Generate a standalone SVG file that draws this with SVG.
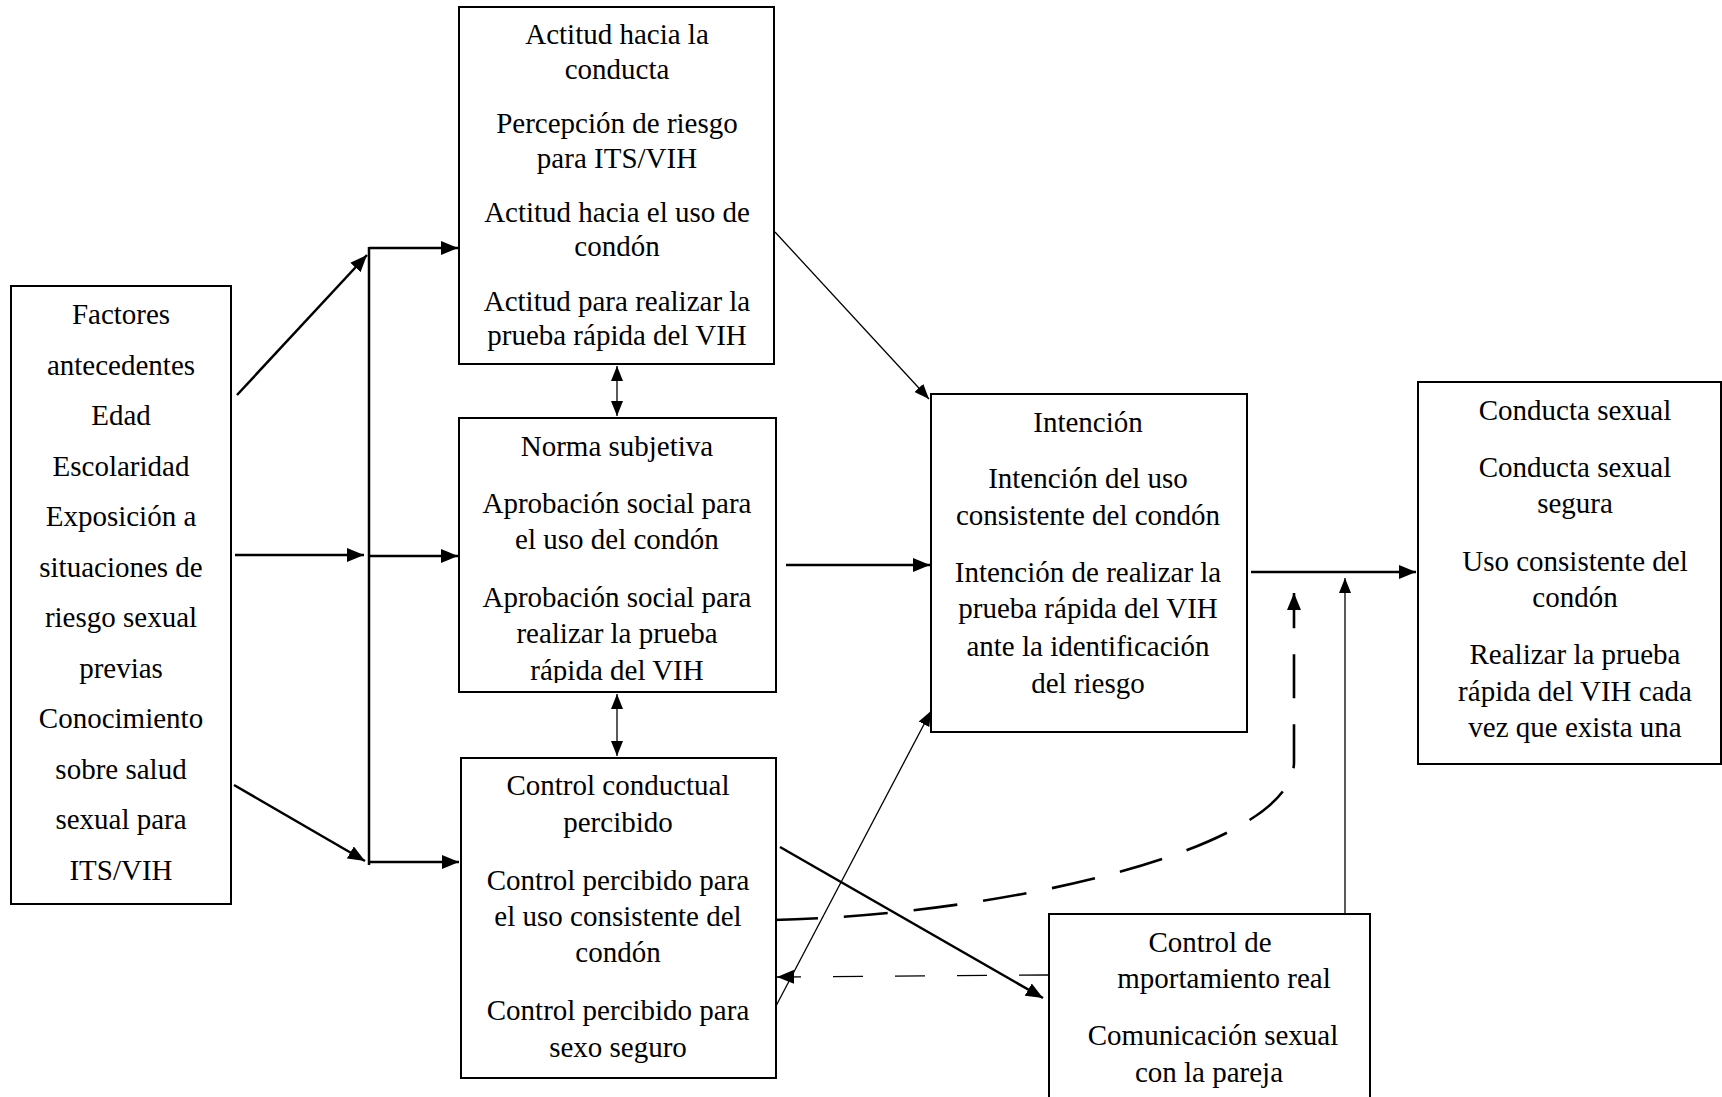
<svg xmlns="http://www.w3.org/2000/svg" width="1722" height="1097" viewBox="0 0 1722 1097">
<style>
  .box { fill: #fff; stroke: #000; stroke-width: 2; }
  text { font-family: "Liberation Serif", "Times New Roman", serif; font-size: 29px; fill: #000; text-anchor: middle; }
  .thick { stroke: #000; stroke-width: 2.5; fill: none; }
  .thin { stroke: #000; stroke-width: 1.3; fill: none; }
  .dash { stroke: #000; stroke-width: 1.3; fill: none; stroke-dasharray: 30 32; }
  .dashthick { stroke: #000; stroke-width: 2.6; fill: none; stroke-dasharray: 44 26; }
</style>
<defs>
  <marker id="ah" markerUnits="userSpaceOnUse" markerWidth="18" markerHeight="14" refX="17" refY="7" orient="auto-start-reverse">
    <path d="M0,0 L17,7 L0,14 z" fill="#000"/>
  </marker>
  <marker id="ahs" markerUnits="userSpaceOnUse" markerWidth="16" markerHeight="12" refX="15" refY="6" orient="auto-start-reverse">
    <path d="M0,0 L15,6 L0,12 z" fill="#000"/>
  </marker>
  <clipPath id="normaClip"><rect x="459" y="418" width="318" height="265"/></clipPath>
</defs>
<rect width="1722" height="1097" fill="#fff"/>

<g id="connectors">
  <line class="thick" x1="237" y1="395" x2="367" y2="255" marker-end="url(#ah)"/>
  <line class="thick" x1="369" y1="247" x2="369" y2="865"/>
  <line class="thick" x1="369" y1="248" x2="458" y2="248" marker-end="url(#ah)"/>
  <line class="thick" x1="235" y1="555" x2="364" y2="555" marker-end="url(#ah)"/>
  <line class="thick" x1="369" y1="556" x2="458" y2="556" marker-end="url(#ah)"/>
  <line class="thick" x1="234" y1="785" x2="365" y2="861" marker-end="url(#ah)"/>
  <line class="thick" x1="369" y1="862" x2="459" y2="862" marker-end="url(#ah)"/>
  <line class="thin" x1="617" y1="366" x2="617" y2="416" marker-start="url(#ahs)" marker-end="url(#ahs)"/>
  <line class="thin" x1="617" y1="694" x2="617" y2="756" marker-start="url(#ahs)" marker-end="url(#ahs)"/>
  <line class="thin" x1="775" y1="232" x2="929" y2="399" marker-end="url(#ahs)"/>
  <line class="thick" x1="786" y1="565" x2="930" y2="565" marker-end="url(#ah)"/>
  <line class="thin" x1="776" y1="1006" x2="931" y2="711" marker-end="url(#ahs)"/>
  <line class="thick" x1="780" y1="847" x2="1043" y2="998" marker-end="url(#ah)"/>
  <line class="dash" x1="1049" y1="975" x2="777" y2="977" marker-end="url(#ah)"/>
  <path class="dashthick" d="M774,920 C1000,915 1294,850 1294,762 L1294,593" marker-end="url(#ah)"/>
  <line class="thin" x1="1345" y1="913" x2="1345" y2="578" marker-end="url(#ahs)"/>
  <line class="thick" x1="1251" y1="572" x2="1416" y2="572" marker-end="url(#ah)"/>
</g>

<g id="factores">
  <rect class="box" x="11" y="286" width="220" height="618"/>
  <text x="121" y="324">Factores</text>
  <text x="121" y="375">antecedentes</text>
  <text x="121" y="425">Edad</text>
  <text x="121" y="476">Escolaridad</text>
  <text x="121" y="526">Exposición a</text>
  <text x="121" y="577">situaciones de</text>
  <text x="121" y="627">riesgo sexual</text>
  <text x="121" y="678">previas</text>
  <text x="121" y="728">Conocimiento</text>
  <text x="121" y="779">sobre salud</text>
  <text x="121" y="829">sexual para</text>
  <text x="121" y="880">ITS/VIH</text>
</g>

<g id="actitud">
  <rect class="box" x="459" y="7" width="315" height="357"/>
  <text x="617" y="44">Actitud hacia la</text>
  <text x="617" y="79">conducta</text>
  <text x="617" y="133">Percepción de riesgo</text>
  <text x="617" y="168">para ITS/VIH</text>
  <text x="617" y="222">Actitud hacia el uso de</text>
  <text x="617" y="256">condón</text>
  <text x="617" y="311">Actitud para realizar la</text>
  <text x="617" y="345">prueba rápida del VIH</text>
</g>

<g id="norma">
  <rect class="box" x="459" y="418" width="317" height="274"/>
  <g clip-path="url(#normaClip)">
    <text x="617" y="456">Norma subjetiva</text>
    <text x="617" y="513">Aprobación social para</text>
    <text x="617" y="549">el uso del condón</text>
    <text x="617" y="607">Aprobación social para</text>
    <text x="617" y="643">realizar la prueba</text>
    <text x="617" y="680">rápida del VIH</text>
  </g>
</g>

<g id="control-percibido">
  <rect class="box" x="461" y="758" width="315" height="320"/>
  <text x="618" y="795">Control conductual</text>
  <text x="618" y="832">percibido</text>
  <text x="618" y="890">Control percibido para</text>
  <text x="618" y="926">el uso consistente del</text>
  <text x="618" y="962">condón</text>
  <text x="618" y="1020">Control percibido para</text>
  <text x="618" y="1057">sexo seguro</text>
</g>

<g id="intencion">
  <rect class="box" x="931" y="394" width="316" height="338"/>
  <text x="1088" y="432">Intención</text>
  <text x="1088" y="488">Intención del uso</text>
  <text x="1088" y="525">consistente del condón</text>
  <text x="1088" y="582">Intención de realizar la</text>
  <text x="1088" y="618">prueba rápida del VIH</text>
  <text x="1088" y="656">ante la identificación</text>
  <text x="1088" y="693">del riesgo</text>
</g>

<g id="conducta">
  <rect class="box" x="1418" y="382" width="303" height="382"/>
  <text x="1575" y="420">Conducta sexual</text>
  <text x="1575" y="477">Conducta sexual</text>
  <text x="1575" y="513">segura</text>
  <text x="1575" y="571">Uso consistente del</text>
  <text x="1575" y="607">condón</text>
  <text x="1575" y="664">Realizar la prueba</text>
  <text x="1575" y="701">rápida del VIH cada</text>
  <text x="1575" y="737">vez que exista una</text>
</g>

<g id="control-real">
  <rect class="box" x="1049" y="914" width="321" height="200"/>
  <text x="1210" y="952">Control de</text>
  <text x="1224" y="988">mportamiento real</text>
  <text x="1213" y="1045">Comunicación sexual</text>
  <text x="1209" y="1082">con la pareja</text>
</g>
</svg>
